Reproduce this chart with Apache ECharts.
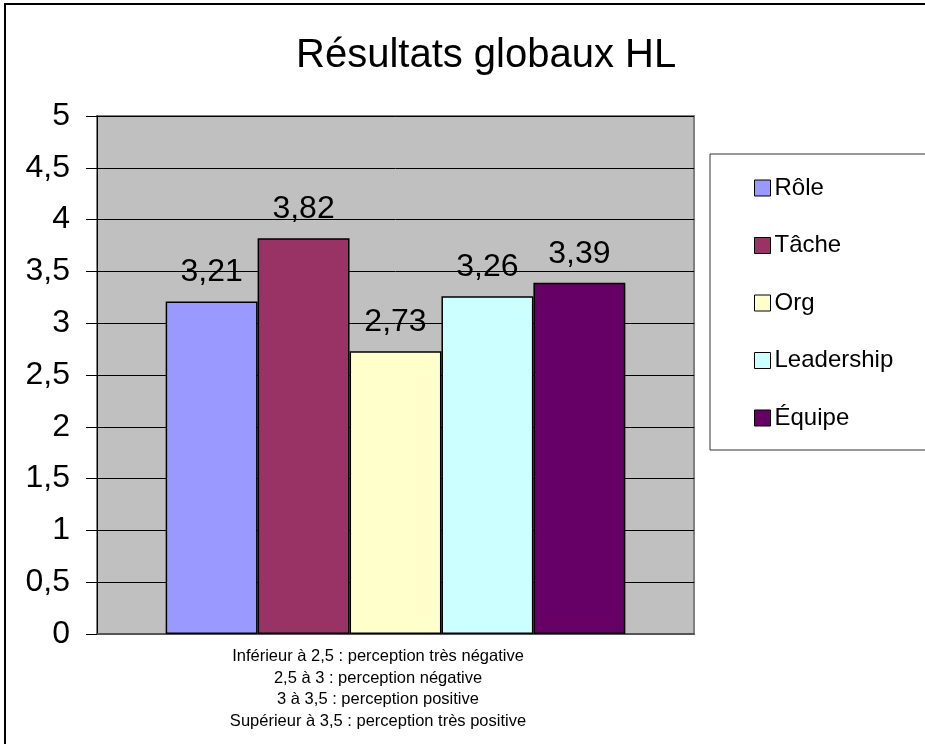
<!DOCTYPE html>
<html>
<head>
<meta charset="utf-8">
<title>Résultats globaux HL</title>
<script src="https://cdn.jsdelivr.net/npm/echarts@6/dist/echarts.min.js"></script>
<style>
  html, body { margin: 0; padding: 0; background: #fff; }
  #chart { width: 925px; height: 744px; }
</style>
</head>
<body>
<div id="chart"></div>
<script>
// données du graphique
const categories = ['']
const seriesNames = ['Rôle', 'Tâche', 'Org', 'Leadership', 'Équipe']
const seriesValues = [3.21, 3.82, 2.73, 3.26, 3.39]
const seriesColors = ['#9999FF', '#993366', '#FFFFCC', '#CCFFFF', '#660066']
const notes = [
  'Inférieur à 2,5 : perception très négative',
  '2,5 à 3 : perception négative',
  '3 à 3,5 : perception positive',
  'Supérieur à 3,5 : perception très positive'
]

const fontFamily = 'Liberation Sans, Arial, sans-serif'
// virgule décimale
const fmt = v => String(v).replace('.', ',')

const myChart = echarts.init(document.getElementById('chart'))

const option = {
  backgroundColor: '#fff',
  animation: false,
  title: {
    text: 'Résultats globaux HL',
    left: 296,
    top: 36,
    padding: 0,
    textStyle: { fontFamily, fontSize: 40, fontWeight: 'normal', color: '#000' }
  },
  legend: {
    orient: 'vertical',
    left: 754,
    top: 176,
    padding: 0,
    itemWidth: 16,
    itemHeight: 16,
    itemGap: 33.5,
    icon: 'rect',
    itemStyle: { borderColor: '#000', borderWidth: 1 },
    textStyle: { fontFamily, fontSize: 24, color: '#000', padding: [0, 0, 0, -1] },
    data: seriesNames
  },
  grid: {
    left: 97,
    right: 231,
    top: 116,
    bottom: 110,
    show: true,
    backgroundColor: '#C0C0C0',
    borderColor: '#808080',
    borderWidth: 2
  },
  xAxis: {
    type: 'category',
    data: categories,
    axisLine: { show: true, lineStyle: { color: '#555', width: 2 } },
    axisTick: { show: false },
    axisLabel: { show: false }
  },
  yAxis: {
    type: 'value',
    min: 0,
    max: 5,
    interval: 0.5,
    axisLine: { show: true, lineStyle: { color: '#000', width: 1 } },
    axisTick: { show: true, length: 11, lineStyle: { color: '#000' } },
    axisLabel: { fontFamily, fontSize: 32, color: '#000', margin: 27, formatter: fmt },
    splitLine: { show: true, lineStyle: { color: '#000', width: 1 } }
  },
  graphic: [
    {
      type: 'rect',
      shape: { x: 5, y: 4, width: 1000, height: 1000 },
      style: { fill: 'none', stroke: '#000', lineWidth: 2 },
      z: 100
    },
    {
      type: 'rect',
      shape: { x: 710, y: 154, width: 300, height: 296 },
      style: { fill: '#fff', stroke: '#333', lineWidth: 1 },
      z: 0
    },
    {
      type: 'text',
      x: 378,
      y: 646,
      style: {
        text: notes.join('\n'),
        fontFamily,
        fontSize: 16.5,
        lineHeight: 21.5,
        fill: '#000',
        align: 'center'
      }
    }
  ],
  series: seriesNames.map((name, i) => ({
    name,
    type: 'bar',
    data: [seriesValues[i]],
    barGap: '0%',
    barCategoryGap: '23%',
    itemStyle: { color: seriesColors[i], borderColor: '#000', borderWidth: 1.5 },
    label: {
      show: true,
      position: 'top',
      distance: 13,
      fontFamily,
      fontSize: 32,
      color: '#000',
      formatter: p => fmt(p.value)
    }
  }))
}

myChart.setOption(option)
</script>
</body>
</html>
